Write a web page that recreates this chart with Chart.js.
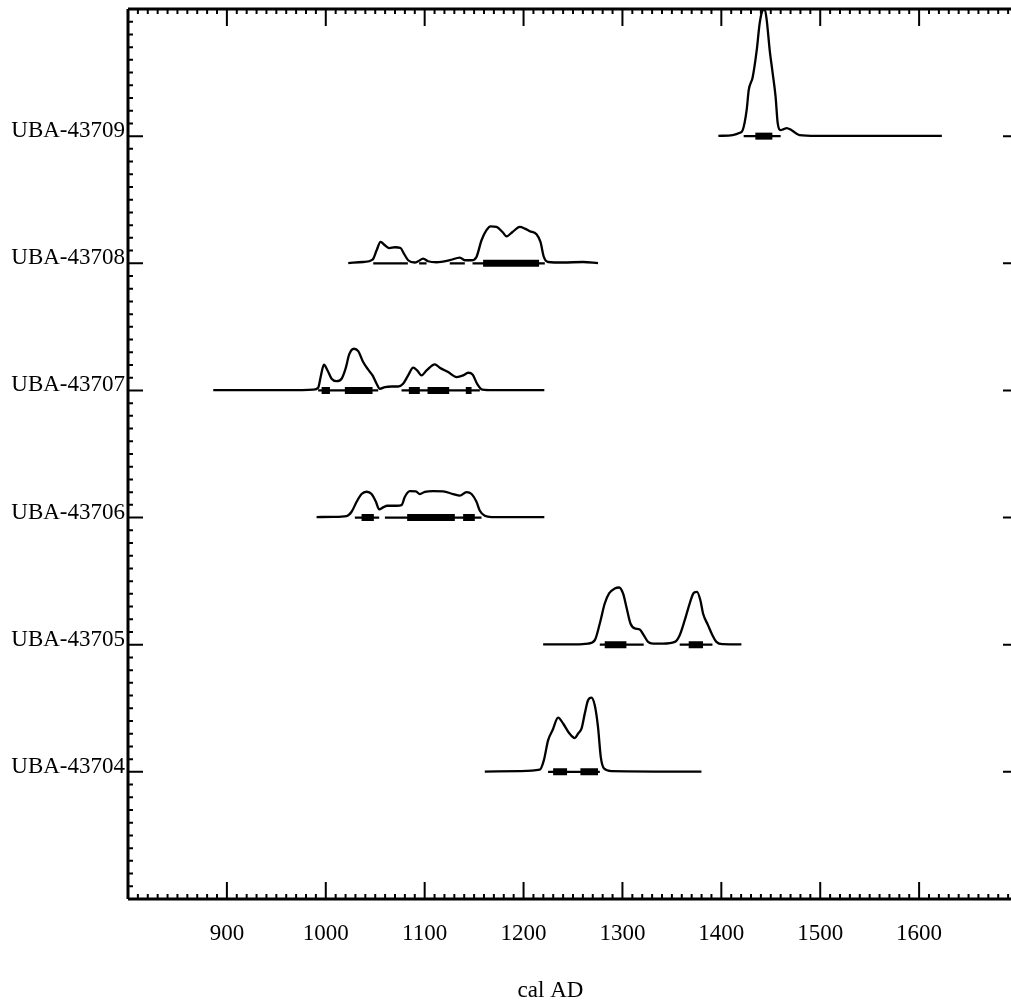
<!DOCTYPE html>
<html>
<head>
<meta charset="utf-8">
<script src="https://cdn.jsdelivr.net/npm/chart.js@4/dist/chart.umd.min.js"></script>
<style>
  html, body { margin: 0; padding: 0; background: #fff; overflow: hidden; }
  #wrap { width: 1011px; height: 1005px; overflow: hidden; }
</style>
</head>
<body>
<div id="wrap"><canvas id="oxcal" width="1030" height="1005"></canvas></div>
<script>
// sample names, top row first
const samples = ['UBA-43709', 'UBA-43708', 'UBA-43707', 'UBA-43706', 'UBA-43705', 'UBA-43704'];
const xTicks = [900, 1000, 1100, 1200, 1300, 1400, 1500, 1600];

// calibrated probability curves (year, relative height)
const yr43709 = [1397, 1411.5, 1418.6, 1421.6, 1425.6, 1427.7, 1431.7, 1435.8, 1438.8, 1441.8, 1443.8, 1445.9, 1448.9, 1451.9, 1454.9, 1457, 1460, 1463, 1466, 1471, 1479, 1496, 1623];
const p43709 = [0.002, 0.008, 0.026, 0.047, 0.205, 0.362, 0.464, 0.676, 0.889, 0.99, 1.0, 0.913, 0.677, 0.496, 0.307, 0.102, 0.047, 0.055, 0.063, 0.047, 0.008, 0.002, 0.002];

const yr43708 = [1022.7, 1037.8, 1047.3, 1051.4, 1055.4, 1059.8, 1064.1, 1069.9, 1075.6, 1079, 1083.3, 1090.1, 1093.4, 1098.5, 1103.5, 1112, 1125.4, 1135.6, 1140.6, 1147.4, 1152.4, 1157.5, 1162.5, 1166.6, 1172.7, 1178.7, 1182.8, 1188.8, 1196.2, 1201.3, 1206.3, 1213.1, 1217.1, 1220.5, 1224.8, 1240, 1260.2, 1275.3];
const p43708 = [0.002, 0.01, 0.029, 0.102, 0.168, 0.142, 0.12, 0.126, 0.12, 0.076, 0.024, 0.006, 0.016, 0.037, 0.016, 0.008, 0.024, 0.045, 0.024, 0.024, 0.05, 0.181, 0.26, 0.291, 0.286, 0.246, 0.212, 0.246, 0.286, 0.273, 0.252, 0.228, 0.168, 0.05, 0.01, 0.006, 0.01, 0.002];

const yr43707 = [886.2, 913.2, 973.8, 987.3, 992.3, 994.8, 998.1, 1001.8, 1005.9, 1010.9, 1016, 1020, 1023.7, 1028.4, 1032.8, 1037.8, 1042.9, 1047.3, 1051.4, 1054.7, 1059.8, 1066.5, 1073.2, 1078.2, 1083.3, 1088.4, 1092.4, 1096.8, 1101.9, 1110.3, 1115.3, 1123.7, 1132.2, 1138.9, 1144, 1148.4, 1153, 1158.5, 1169.2, 1221];
const p43707 = [0.002, 0.002, 0.002, 0.006, 0.021, 0.105, 0.202, 0.157, 0.092, 0.073, 0.092, 0.171, 0.283, 0.328, 0.309, 0.223, 0.163, 0.118, 0.053, 0.013, 0.026, 0.031, 0.031, 0.053, 0.118, 0.179, 0.157, 0.118, 0.157, 0.205, 0.179, 0.144, 0.105, 0.118, 0.139, 0.126, 0.053, 0.006, 0.002, 0.002];

const yr43706 = [990.7, 1007.5, 1021, 1026.1, 1031.2, 1036.2, 1041.3, 1046.3, 1050.7, 1054, 1058, 1062.1, 1071.6, 1076.6, 1080, 1085, 1091.1, 1095.1, 1100.2, 1108.6, 1118.7, 1128.8, 1135.6, 1142.3, 1147.4, 1152.4, 1155.8, 1160.8, 1167.6, 1192.9, 1221];
const p43706 = [0.004, 0.006, 0.012, 0.046, 0.124, 0.185, 0.203, 0.185, 0.124, 0.065, 0.08, 0.093, 0.093, 0.098, 0.164, 0.208, 0.206, 0.185, 0.203, 0.208, 0.206, 0.185, 0.172, 0.2, 0.185, 0.124, 0.054, 0.014, 0.004, 0.004, 0.004];

const yr43705 = [1219.8, 1246.7, 1265.2, 1272, 1277.1, 1282.1, 1286.5, 1292.2, 1296.6, 1300.6, 1304, 1308.1, 1312.4, 1317.5, 1321.5, 1325.9, 1330.9, 1341, 1352.9, 1357.9, 1363, 1368, 1372.1, 1375.4, 1378.8, 1381.5, 1386.5, 1391, 1395, 1401.7, 1420.3];
const p43705 = [0.002, 0.002, 0.009, 0.035, 0.167, 0.324, 0.403, 0.442, 0.45, 0.403, 0.297, 0.167, 0.128, 0.12, 0.075, 0.022, 0.009, 0.009, 0.022, 0.075, 0.193, 0.324, 0.408, 0.416, 0.35, 0.246, 0.154, 0.075, 0.022, 0.004, 0.002];

const yr43704 = [1160.8, 1196.2, 1216.4, 1220.5, 1224.8, 1229.3, 1234.9, 1240, 1246, 1251.8, 1255.1, 1258.6, 1261.9, 1265.2, 1268.7, 1272, 1275.3, 1278.1, 1281.4, 1288.9, 1379.9];
const p43704 = [0.002, 0.006, 0.017, 0.09, 0.248, 0.327, 0.427, 0.38, 0.306, 0.266, 0.301, 0.34, 0.458, 0.563, 0.584, 0.523, 0.352, 0.116, 0.026, 0.006, 0.002];

// 95.4% (thin) and 68.2% (thick) ranges
const r95_43709 = [[1422.6, 1460]];
const r68_43709 = [[1434.4, 1451.6]];
const r95_43708 = [[1048, 1083], [1094.4, 1101.9], [1125.4, 1140.6], [1148.4, 1221.5]];
const r68_43708 = [[1159.1, 1215.7]];
const r95_43707 = [[992.3, 1053], [1076.6, 1155.8]];
const r68_43707 = [[995.8, 1004.2], [1019.3, 1047.3], [1084, 1095.1], [1102.9, 1124.8], [1141.6, 1147.4]];
const r95_43706 = [[1029.4, 1054], [1059.8, 1157.5]];
const r68_43706 = [[1036.2, 1048.6], [1082.3, 1130.5], [1138.9, 1150.7]];
const r95_43705 = [[1277.1, 1321.5], [1357.9, 1391]];
const r68_43705 = [[1282.1, 1304], [1367, 1381.5]];
const r95_43704 = [[1224.8, 1277.1]];
const r68_43704 = [[1229.9, 1244], [1257.5, 1275.3]];

const curves = [
  [yr43709, p43709, r95_43709, r68_43709],
  [yr43708, p43708, r95_43708, r68_43708],
  [yr43707, p43707, r95_43707, r68_43707],
  [yr43706, p43706, r95_43706, r68_43706],
  [yr43705, p43705, r95_43705, r68_43705],
  [yr43704, p43704, r95_43704, r68_43704]
];

const FONT = '23px "Liberation Serif", "Times New Roman", serif';
const nRows = samples.length;

function rangePoints(ranges, base) {
  const pts = [];
  ranges.forEach(r => {
    pts.push({x: r[0], y: base}, {x: r[1], y: base}, {x: r[1], y: null});
  });
  return pts;
}

const datasets = [];
curves.forEach((c, i) => {
  const base = nRows - i;
  datasets.push({
    data: c[0].map((x, j) => ({x: x, y: base + c[1][j]})),
    borderColor: '#000', borderWidth: 2.3,
    cubicInterpolationMode: 'monotone'
  });
  datasets.push({
    data: rangePoints(c[2], base),
    borderColor: '#000', borderWidth: 2.3, borderCapStyle: 'butt', spanGaps: false
  });
  datasets.push({
    data: rangePoints(c[3], base),
    borderColor: '#000', borderWidth: 7, borderCapStyle: 'butt', spanGaps: false
  });
});

const axesPlugin = {
  id: 'oxcalAxes',
  afterDraw(chart) {
    const ctx = chart.ctx;
    const a = chart.chartArea;
    const xs = chart.scales.x, ys = chart.scales.y;
    ctx.save();
    ctx.strokeStyle = '#000';
    ctx.lineCap = 'butt';

    // x ticks, top and bottom
    ctx.lineWidth = 2;
    ctx.beginPath();
    for (let v = 800; v <= 1700; v += 10) {
      const px = xs.getPixelForValue(v);
      const len = v % 100 === 0 ? 17 : 5;
      ctx.moveTo(px, a.bottom); ctx.lineTo(px, a.bottom - len);
      ctx.moveTo(px, a.top); ctx.lineTo(px, a.top + len);
    }
    // y ticks
    for (let k = 0; k <= 70; k++) {
      const v = k / 10;
      const py = ys.getPixelForValue(v);
      const row = k % 10 === 0 && k > 0 && k < 70;
      ctx.moveTo(a.left, py); ctx.lineTo(a.left + (row ? 15 : 5), py);
      if (row) { ctx.moveTo(a.right, py); ctx.lineTo(a.right - 15, py); }
    }
    ctx.stroke();

    // axis lines
    ctx.lineWidth = 3;
    ctx.beginPath();
    ctx.moveTo(a.left, a.top); ctx.lineTo(a.right, a.top);
    ctx.moveTo(a.left, a.top); ctx.lineTo(a.left, a.bottom);
    ctx.moveTo(a.left, a.bottom); ctx.lineTo(a.right, a.bottom);
    ctx.stroke();

    // labels
    ctx.fillStyle = '#000';
    ctx.font = FONT;
    ctx.textBaseline = 'alphabetic';
    ctx.textAlign = 'right';
    samples.forEach((s, i) => {
      ctx.fillText(s, a.left - 3, ys.getPixelForValue(nRows - i) + 1);
    });
    ctx.textAlign = 'center';
    xTicks.forEach(t => {
      ctx.fillText(String(t), xs.getPixelForValue(t), a.bottom + 41);
    });
    ctx.textAlign = 'left';
    ctx.fillText('cal AD', xs.getPixelForValue(1194), a.bottom + 98);
    ctx.restore();
  }
};

new Chart(document.getElementById('oxcal'), {
  type: 'line',
  data: {datasets: datasets},
  options: {
    responsive: false,
    animation: false,
    layout: {padding: {left: 128, right: 12, top: 9, bottom: 106}},
    elements: {point: {radius: 0}, line: {tension: 0}},
    scales: {
      x: {type: 'linear', min: 800, max: 1700, display: false},
      y: {type: 'linear', min: 0, max: 7, display: false}
    },
    plugins: {legend: {display: false}, tooltip: {enabled: false}}
  },
  plugins: [axesPlugin]
});
</script>
</body>
</html>
